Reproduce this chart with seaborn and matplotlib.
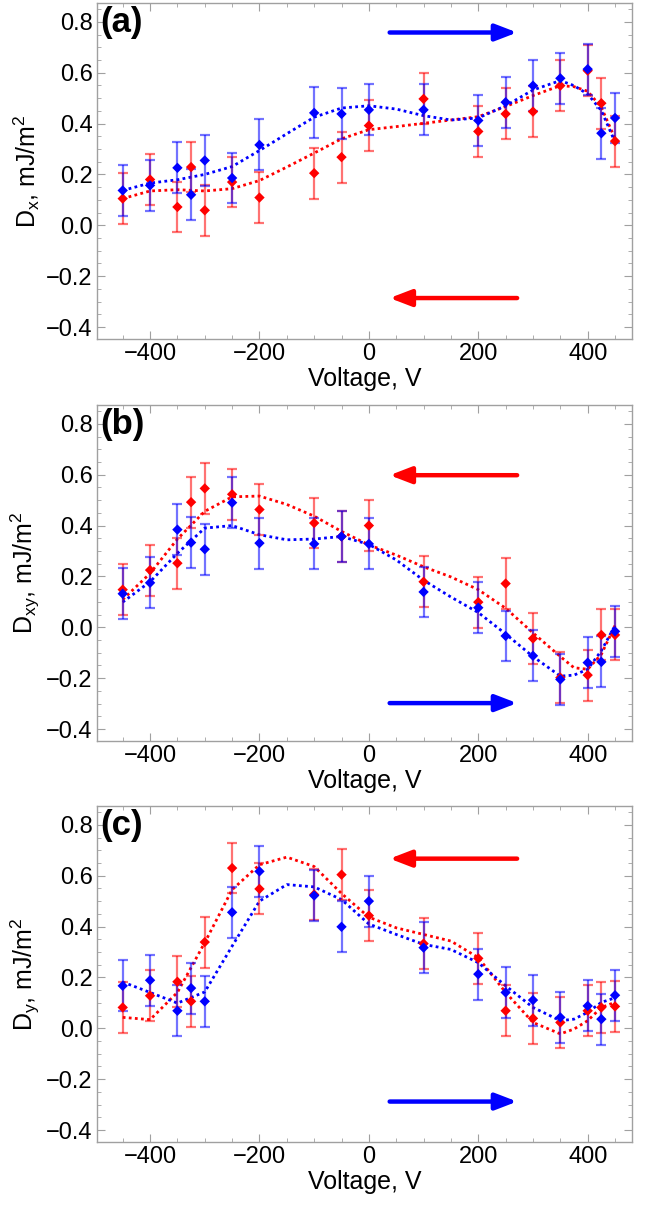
import matplotlib
matplotlib.use('Agg')
import matplotlib.pyplot as plt
from matplotlib.ticker import MultipleLocator
import numpy as np
import pandas as pd
import seaborn as sns

# measured points (same voltages in every panel)
voltage = [-450, -400, -350, -325, -300, -250, -200, -100, -50, 0,
           100, 200, 250, 300, 350, 400, 425, 450]
err = 0.1

dx_blue = [0.137, 0.157, 0.226, 0.120, 0.255, 0.186, 0.316, 0.442, 0.438, 0.454,
           0.454, 0.412, 0.484, 0.549, 0.578, 0.614, 0.362, 0.422]
dx_red = [0.105, 0.180, 0.072, 0.229, 0.059, 0.170, 0.109, 0.205, 0.268, 0.392,
          0.497, 0.369, 0.438, 0.447, 0.549, 0.608, 0.480, 0.331]

dxy_blue = [0.132, 0.175, 0.384, 0.333, 0.307, 0.490, 0.331, 0.328, 0.357, 0.328,
            0.139, 0.077, -0.034, -0.112, -0.205, -0.139, -0.136, -0.016]
dxy_red = [0.148, 0.225, 0.252, 0.492, 0.546, 0.523, 0.463, 0.410, 0.357, 0.400,
           0.179, 0.099, 0.172, -0.044, -0.198, -0.188, -0.030, -0.030]

dy_blue = [0.167, 0.189, 0.069, 0.158, 0.106, 0.456, 0.617, 0.522, 0.399, 0.500,
           0.317, 0.213, 0.141, 0.111, 0.043, 0.088, 0.036, 0.130]
dy_red = [0.082, 0.128, 0.183, 0.106, 0.339, 0.630, 0.548, 0.526, 0.604, 0.443,
          0.333, 0.275, 0.069, 0.039, 0.023, 0.069, 0.082, 0.086]

# dotted fit curves
v_fit = [-450, -400, -350, -300, -250, -200, -150, -100, -50, 0, 50, 100, 150,
         200, 250, 300, 350, 375, 400, 425, 450]
fit_dx_blue = [0.137, 0.166, 0.179, 0.200, 0.231, 0.294, 0.360, 0.425, 0.461, 0.470, 0.457,
               0.431, 0.414, 0.422, 0.470, 0.532, 0.569, 0.549, 0.516, 0.451, 0.327]
fit_dx_red = [0.105, 0.135, 0.140, 0.135, 0.144, 0.176, 0.229, 0.284, 0.340, 0.376, 0.388,
              0.401, 0.414, 0.427, 0.467, 0.510, 0.549, 0.545, 0.527, 0.464, 0.340]
fit_dxy_blue = [0.099, 0.179, 0.291, 0.390, 0.400, 0.364, 0.344, 0.347, 0.357, 0.326, 0.265,
                0.185, 0.119, 0.058, -0.026, -0.115, -0.192, -0.188, -0.165, -0.092, 0.007]
fit_dxy_red = [0.109, 0.212, 0.347, 0.456, 0.513, 0.516, 0.483, 0.437, 0.377, 0.324, 0.284,
               0.238, 0.198, 0.148, 0.075, -0.022, -0.115, -0.159, -0.165, -0.106, 0.007]
fit_dy_blue = [0.182, 0.141, 0.099, 0.143, 0.323, 0.500, 0.565, 0.556, 0.506, 0.410, 0.369,
               0.330, 0.310, 0.258, 0.167, 0.082, 0.030, 0.036, 0.063, 0.102, 0.120]
fit_dy_red = [0.043, 0.034, 0.141, 0.337, 0.545, 0.643, 0.673, 0.636, 0.530, 0.437, 0.395,
              0.369, 0.343, 0.278, 0.141, 0.023, -0.022, -0.003, 0.030, 0.082, 0.102]

# arrows: (y of red arrow, y of blue arrow) per panel
arrow_y = [(-0.286, 0.758), (0.598, -0.298), (0.667, -0.288)]
arrow_x = (38, 271)

panels = [
    ('(a)', r'D$_\mathregular{x}$, mJ/m$^\mathregular{2}$', dx_blue, dx_red, fit_dx_blue, fit_dx_red),
    ('(b)', r'D$_\mathregular{xy}$, mJ/m$^\mathregular{2}$', dxy_blue, dxy_red, fit_dxy_blue, fit_dxy_red),
    ('(c)', r'D$_\mathregular{y}$, mJ/m$^\mathregular{2}$', dy_blue, dy_red, fit_dy_blue, fit_dy_red),
]

sns.set_style('ticks')
plt.rcParams['font.family'] = ['Liberation Sans', 'DejaVu Sans']
plt.rcParams['mathtext.fontset'] = 'custom'
plt.rcParams['mathtext.rm'] = 'Liberation Sans'

BLUE = '#0000ff'
RED = '#ff0000'
FRAME = '#a0a0a0'

fig = plt.figure(figsize=(6.5, 12.09), dpi=100)
tops = [3, 405, 806]

for k, (tag, ylab, blue, red, fblue, fred) in enumerate(panels):
    top = tops[k]
    ax = fig.add_axes([97 / 650, 1 - (top + 336) / 1209, 535 / 650, 336 / 1209])

    pts = pd.DataFrame({'V': voltage * 2, 'D': red + blue,
                        'dir': ['red'] * len(red) + ['blue'] * len(blue)})
    fit = pd.DataFrame({'V': v_fit * 2, 'D': fred + fblue,
                        'dir': ['red'] * len(fred) + ['blue'] * len(fblue)})

    sns.lineplot(data=fit, x='V', y='D', hue='dir', palette={'red': RED, 'blue': BLUE},
                 linestyle=(0, (1, 1.2)), linewidth=2.0, legend=False, ax=ax, zorder=2)
    for series, col in [(red, RED), (blue, BLUE)]:
        ax.errorbar(voltage, series, yerr=err, fmt='none', ecolor=col, alpha=0.55,
                    elinewidth=1.6, capsize=3.5, capthick=1.6, zorder=3)
    sns.scatterplot(data=pts, x='V', y='D', hue='dir', palette={'red': RED, 'blue': BLUE},
                    marker='D', s=28, edgecolor='none', legend=False, ax=ax, zorder=4)

    # direction arrows
    ry, by = arrow_y[k]
    ax.annotate('', xy=(arrow_x[0], ry), xytext=(arrow_x[1], ry),
                arrowprops=dict(arrowstyle='-|>,head_length=1.3,head_width=0.5',
                                color=RED, lw=3.2, shrinkA=0, shrinkB=0))
    ax.annotate('', xy=(arrow_x[1], by), xytext=(arrow_x[0], by),
                arrowprops=dict(arrowstyle='-|>,head_length=1.3,head_width=0.5',
                                color=BLUE, lw=3.2, shrinkA=0, shrinkB=0))

    ax.set_xlim(-497, 481)
    ax.set_ylim(-0.447, 0.874)
    ax.xaxis.set_minor_locator(MultipleLocator(50))
    ax.yaxis.set_minor_locator(MultipleLocator(0.05))
    yt = np.arange(-0.4, 0.81, 0.2)
    ax.set_yticks(yt)
    ax.set_yticklabels([f'{t:.1f}'.replace('-', '\u2212') for t in yt])
    ax.set_xticks([-400, -200, 0, 200, 400])
    ax.set_xticklabels(['\u2212400', '\u2212200', '0', '200', '400'])
    ax.tick_params(which='both', direction='in', top=True, right=True, color=FRAME,
                   labelsize=17, labelcolor='black', pad=3)
    ax.tick_params(which='major', length=6, width=0.8)
    ax.tick_params(which='minor', length=3, width=0.6)
    for sp in ax.spines.values():
        sp.set_color(FRAME)
        sp.set_linewidth(1.0)

    ax.set_xlabel('Voltage, V', fontsize=18, color='black', labelpad=1)
    ax.set_ylabel(ylab, fontsize=18, color='black', labelpad=3)
    ax.text(0.006, 0.99, tag, transform=ax.transAxes, fontsize=25, fontweight='bold',
            ha='left', va='top', color='black')

fig.savefig('out.png', dpi=100)
